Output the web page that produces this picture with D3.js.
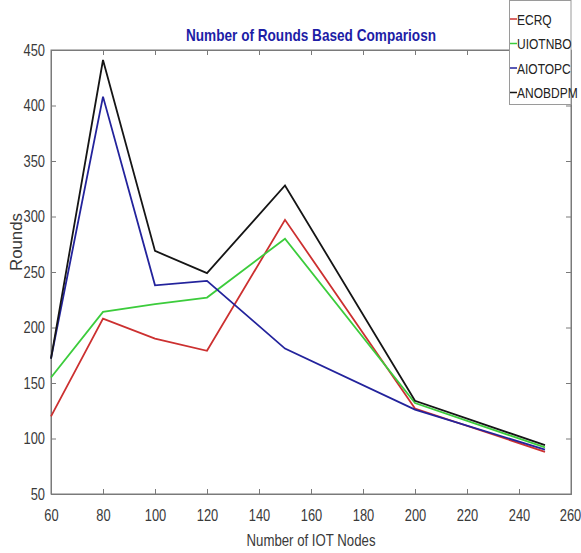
<!DOCTYPE html>
<html><head><meta charset="utf-8">
<script src="https://cdn.jsdelivr.net/npm/d3@7"></script>
<style>
body{margin:0;background:#fff;}
svg{display:block;}
text{font-family:"Liberation Sans","Arial",sans-serif;}
</style></head>
<body><svg id="c" width="581" height="553"></svg>
<script>
const nodes = [60, 80, 100, 120, 150, 200, 250];
const seriesNames = ["ECRQ", "UIOTNBO", "AIOTOPC", "ANOBDPM"];
const ecrq    = [120, 208, 190, 179, 297, 127, 88];
const uiotnbo = [155, 214, 221, 227, 280, 132, 92];
const aiotopc = [172, 408, 238, 242, 181, 126, 90];
const anobdpm = [172, 441, 269, 249, 328, 134, 94];
const colors  = ["#cc3030", "#3ccc3c", "#23239c", "#151515"];
const xTicks = [60, 80, 100, 120, 140, 160, 180, 200, 220, 240, 260];
const yTicks = [50, 100, 150, 200, 250, 300, 350, 400, 450];
const titleText = "Number of Rounds Based Compariosn";
const xLabel = "Number of IOT Nodes";
const yLabel = "Rounds";

const NARROW = 0.76;
const svg = d3.select("#c");
const L = 51, R = 571, T = 50, B = 494;
const x = d3.scaleLinear().domain([60, 260]).range([L, R]);
const y = d3.scaleLinear().domain([50, 450]).range([B, T]);
const axisColor = "#7a7a7a";
const labelColor = "#3a3a3a";

// box
svg.append("rect").attr("x", L).attr("y", T).attr("width", R - L).attr("height", B - T)
  .attr("fill", "none").attr("stroke", axisColor).attr("stroke-width", 1);

// axes (ticks inward)
const gx = svg.append("g").attr("transform", `translate(0,${B})`)
  .call(d3.axisBottom(x).tickValues(xTicks).tickSize(-5).tickPadding(15).tickFormat(d3.format("d")));
const gxt = svg.append("g").attr("transform", `translate(0,${T})`)
  .call(d3.axisTop(x).tickValues(xTicks).tickSize(-5).tickFormat(""));
const gy = svg.append("g").attr("transform", `translate(${L},0)`)
  .call(d3.axisLeft(y).tickValues(yTicks).tickSize(-5).tickPadding(6).tickFormat(d3.format("d")));
const gyr = svg.append("g").attr("transform", `translate(${R},0)`)
  .call(d3.axisRight(y).tickValues(yTicks).tickSize(-5).tickFormat(""));
[gx, gxt, gy, gyr].forEach(g => {
  g.select(".domain").attr("stroke", axisColor);
  g.selectAll(".tick line").attr("stroke", axisColor);
  g.selectAll(".tick text").attr("fill", labelColor)
    .style("font-family", '"Liberation Sans",Arial,sans-serif')
    .style("font-size", "17px")
    .each(function () {
      const t = d3.select(this);
      const tx = +(t.attr("x") || 0);
      t.attr("x", tx / NARROW).attr("transform", `scale(${NARROW},1)`);
    });
});
// keep last x label inside the page
gx.selectAll(".tick text").filter(d => d === 260).attr("x", -1 / NARROW);

// lines
const all = [ecrq, uiotnbo, aiotopc, anobdpm];
const line = d3.line().x((d, i) => x(nodes[i])).y(d => y(d));
all.forEach((vals, k) => {
  svg.append("path").datum(vals).attr("d", line)
    .attr("fill", "none").attr("stroke", colors[k]).attr("stroke-width", 1.8)
    .attr("stroke-linejoin", "miter");
});

// title
svg.append("text").attr("x", 311).attr("y", 41).attr("text-anchor", "middle")
  .attr("fill", "#1d1da6").attr("font-weight", "bold").attr("font-size", 17)
  .attr("textLength", 250).attr("lengthAdjust", "spacingAndGlyphs")
  .text(titleText);

// axis labels
svg.append("text").attr("x", 311).attr("y", 546).attr("text-anchor", "middle")
  .attr("fill", labelColor).attr("font-size", 17)
  .attr("textLength", 129).attr("lengthAdjust", "spacingAndGlyphs").text(xLabel);
svg.append("text").attr("transform", "translate(22,242) rotate(-90)")
  .attr("text-anchor", "middle").attr("fill", labelColor).attr("font-size", 17)
  .attr("textLength", 58).attr("lengthAdjust", "spacingAndGlyphs").text(yLabel);

// legend
const lg = svg.append("g");
lg.append("rect").attr("x", 509.5).attr("y", 0.5).attr("width", 61.5).attr("height", 104)
  .attr("fill", "#fff").attr("stroke", "#9a9a9a");
seriesNames.forEach((n, i) => {
  const yy = 19 + i * 24.5;
  lg.append("line").attr("x1", 510).attr("x2", 517).attr("y1", yy).attr("y2", yy)
    .attr("stroke", colors[i]).attr("stroke-width", 1.5);
  lg.append("text").attr("transform", `translate(517,${yy + 5.5}) scale(0.8,1)`)
    .attr("fill", "#222").attr("font-size", 15).text(n);
});
</script></body></html>
